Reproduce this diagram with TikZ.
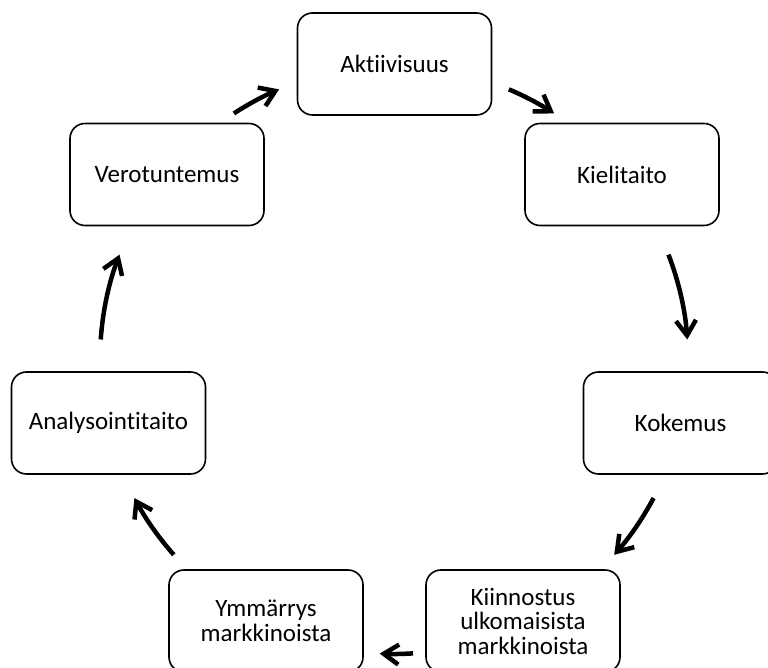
\documentclass[tikz,border=0pt]{standalone}
\usepackage{fontspec}
\setmainfont{Carlito}[Ligatures={NoCommon,NoRequired,NoContextual}]
\usetikzlibrary{arrows.meta}
\begin{document}
\begin{tikzpicture}[x=1pt,y=1pt,
  stepbox/.style={draw, line width=1.6pt, rounded corners=15pt,
    minimum width=194pt, minimum height=102pt, inner sep=0pt,
    align=center, font=\fontsize{25}{24.5}\selectfont},
  cyc/.style={line width=4.5pt, -{Straight Barb[length=15pt,width=20pt]}}]
\useasboundingbox (0,0) rectangle (768,668);
\coordinate (c) at (394,308);
\node[stepbox] (akt) at (394.5,604) {Aktiivisuus};
\node[stepbox] (kie) at (622,493.5) {Kielitaito};
\node[stepbox] (kok) at (680.5,245) {Kokemus};
\node[stepbox] (kii) at (523,47) {Kiinnostus\\ulkomaisista\\markkinoista};
\node[stepbox] (ymm) at (266,47) {Ymmärrys\\markkinoista};
\node[stepbox] (ana) at (108.5,245) {Analysointitaito};
\node[stepbox] (ver) at (167,493.5) {Verotuntemus};
\draw[cyc] ([shift={(123:294)}]c) arc[start angle=123, end angle=113, radius=294];
\draw[cyc] ([shift={(67:294)}]c) arc[start angle=67, end angle=57, radius=294];
\draw[cyc] ([shift={(21:294)}]c) arc[start angle=21, end angle=4, radius=294];
\draw[cyc] ([shift={(-28:294)}]c) arc[start angle=-28, end angle=-41.5, radius=294];
\draw[cyc] ([shift={(-86.3:294)}]c) arc[start angle=-86.3, end angle=-92.8, radius=294];
\draw[cyc] ([shift={(-138.5:294)}]c) arc[start angle=-138.5, end angle=-152, radius=294];
\draw[cyc] ([shift={(176:294)}]c) arc[start angle=176, end angle=159, radius=294];
\end{tikzpicture}
\end{document}
